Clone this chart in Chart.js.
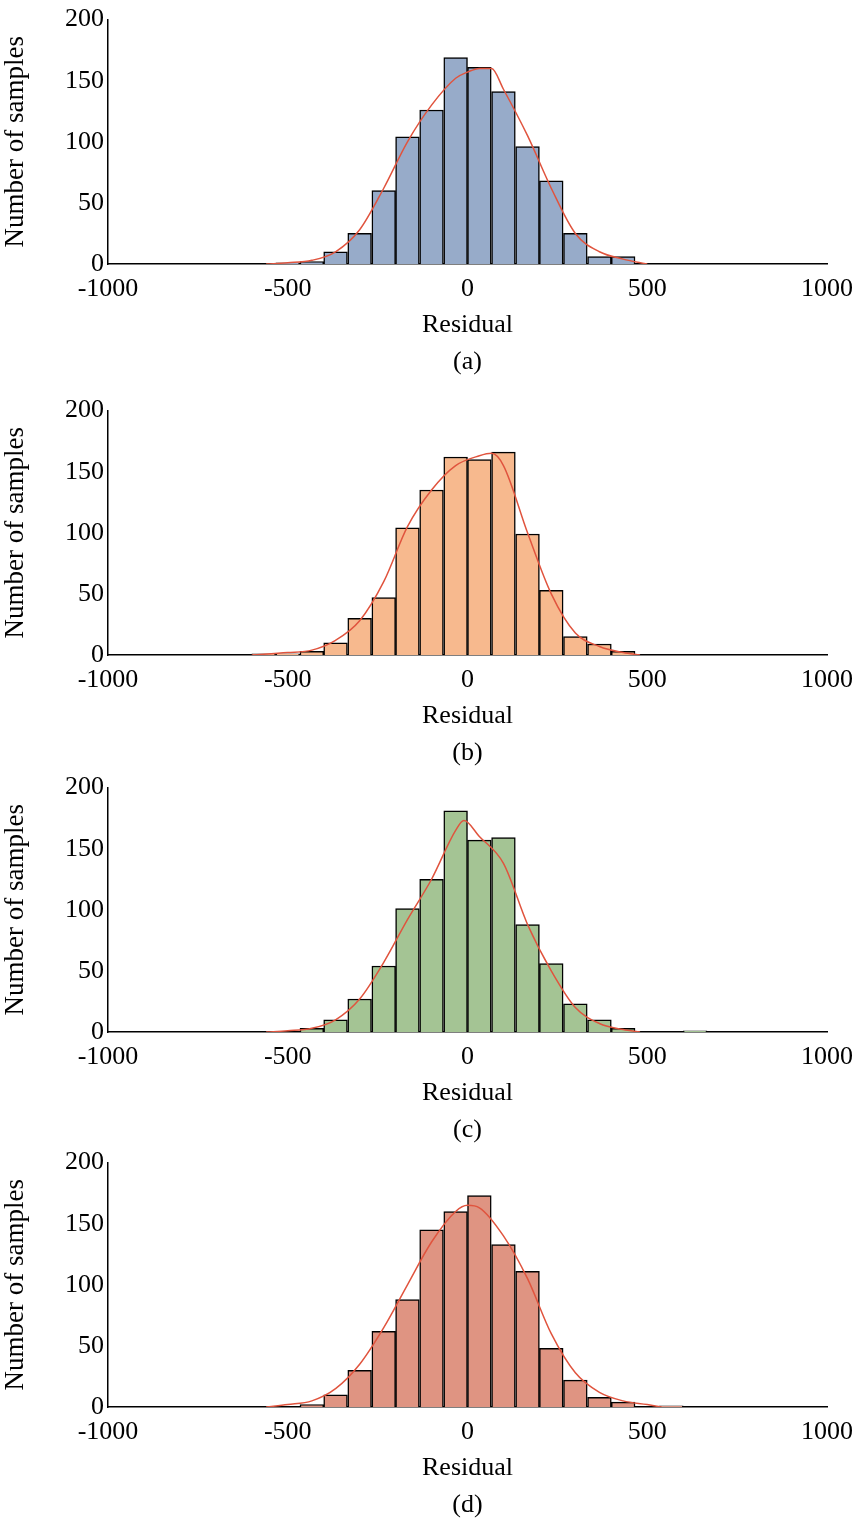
<!DOCTYPE html>
<html>
<head>
<meta charset="utf-8">
<script src="https://cdn.jsdelivr.net/npm/chart.js@4/dist/chart.umd.min.js"></script>
<style>
body { margin: 0; background: #fff; }
.wrap { position: absolute; left: 0; width: 863px; height: 380px; }
</style>
</head>
<body>
<div class="wrap" style="top:0px"><canvas id="ca"></canvas></div>
<div class="wrap" style="top:391px"><canvas id="cb"></canvas></div>
<div class="wrap" style="top:768px"><canvas id="cc"></canvas></div>
<div class="wrap" style="top:1143px"><canvas id="cd"></canvas></div>
<script>
// bin centres (width 66.67)
var binCenters = [-567, -500, -433, -367, -300, -233, -167, -100, -33, 33, 100, 167, 233, 300, 367, 433, 500, 567, 633];

var countsA = [0, 1, 2, 10, 25, 60, 104, 126, 169, 161, 141, 96, 68, 25, 6, 6, 0, 0, 0];
var countsB = [1, 1, 3, 10, 30, 47, 104, 135, 162, 160, 166, 99, 53, 15, 9, 3, 0, 0, 0];
var countsC = [0, 0, 3, 10, 27, 54, 101, 125, 181, 157, 159, 88, 56, 23, 10, 3, 0, 0, 1];
var countsD = [0, 0, 2, 10, 30, 62, 88, 145, 160, 173, 133, 111, 48, 22, 8, 4, 0, 1, 0];

// density curves
var curveAx = [-560, -500, -433, -367, -300, -233, -167, -100, -33, 0, 33, 67, 100, 167, 233, 300, 367, 433, 500];
var curveAy = [0, 1, 3, 10, 28, 62, 100, 130, 152, 157, 160, 160, 143, 105, 62, 25, 10, 4, 0];
var curveBx = [-600, -500, -433, -367, -300, -233, -167, -100, -33, 33, 67, 100, 167, 233, 300, 367, 433, 480];
var curveBy = [0, 2, 4, 12, 28, 60, 105, 135, 155, 163, 165, 155, 100, 50, 18, 7, 2, 0];
var curveCx = [-560, -500, -433, -367, -300, -233, -167, -100, -33, -10, 33, 100, 167, 233, 300, 367, 433, 480];
var curveCy = [0, 1, 3, 10, 27, 57, 92, 125, 165, 173, 160, 138, 88, 50, 20, 7, 2, 0];
var curveDx = [-560, -500, -433, -367, -300, -233, -167, -100, -33, 0, 33, 100, 167, 233, 300, 367, 433, 500, 540];
var curveDy = [0, 2, 5, 15, 35, 65, 100, 135, 160, 165, 163, 140, 105, 60, 28, 12, 5, 2, 0];

var xTicks = [-1000, -500, 0, 500, 1000];
var yTicks = [0, 50, 100, 150, 200];

var FONT = "'Liberation Serif', 'Times New Roman', serif";

function pts(xs, ys) {
    var out = [];
    for (var i = 0; i < xs.length; i++) out.push({ x: xs[i], y: ys[i] });
    return out;
}

function makeChart(id, counts, cx, cy, color, label) {
    new Chart(document.getElementById(id), {
        data: {
            datasets: [{
                type: 'line',
                data: pts(cx, cy),
                borderColor: '#e0543e',
                borderWidth: 1.5,
                pointRadius: 0,
                cubicInterpolationMode: 'monotone',
                order: 0
            }, {
                type: 'bar',
                data: pts(binCenters, counts),
                backgroundColor: color,
                borderColor: '#000',
                borderWidth: 1.5,
                barPercentage: 1,
                categoryPercentage: 1,
                order: 1
            }]
        },
        options: {
            responsive: true,
            maintainAspectRatio: false,
            animation: false,
            layout: { padding: { top: 17, right: 35, left: 0, bottom: 0 } },
            plugins: {
                legend: { display: false },
                tooltip: { enabled: false }
            },
            scales: {
                x: {
                    type: 'linear', min: -1000, max: 1000, offset: false,
                    afterBuildTicks: function (s) { s.ticks = xTicks.map(function (v) { return { value: v }; }); },
                    grid: { display: false, drawTicks: false },
                    border: { color: '#000', width: 1.5 },
                    ticks: { color: '#000', font: { family: FONT, size: 26 }, padding: 10, maxRotation: 0,
                             callback: function (v) { return String(v); } },
                    title: { display: true, text: ['Residual', label], color: '#000',
                             font: { family: FONT, size: 26, lineHeight: 1.4 }, padding: { top: -8, bottom: 0 } }
                },
                y: {
                    min: 0, max: 200,
                    afterBuildTicks: function (s) { s.ticks = yTicks.map(function (v) { return { value: v }; }); },
                    afterFit: function (s) { s.width = 108; },
                    grid: { display: false, drawTicks: false },
                    border: { color: '#000', width: 1.5 },
                    ticks: { color: '#000', font: { family: FONT, size: 26 }, padding: 4 },
                    title: { display: true, text: 'Number of samples', color: '#000', font: { family: FONT, size: 27 }, padding: 0 }
                }
            }
        }
    });
}

makeChart('ca', countsA, curveAx, curveAy, '#97abc9', '(a)');
makeChart('cb', countsB, curveBx, curveBy, '#f7b98e', '(b)');
makeChart('cc', countsC, curveCx, curveCy, '#a4c494', '(c)');
makeChart('cd', countsD, curveDx, curveDy, '#df9482', '(d)');
</script>
</body>
</html>
